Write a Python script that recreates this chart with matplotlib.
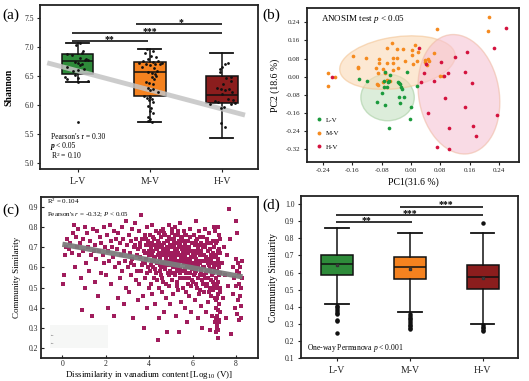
import matplotlib
matplotlib.use("Agg")
import matplotlib.pyplot as plt
from matplotlib.patches import Ellipse, Rectangle
from matplotlib.lines import Line2D

plt.rcParams["font.family"] = ["Liberation Serif", "DejaVu Serif"]
plt.rcParams["mathtext.fontset"] = "custom"
plt.rcParams["mathtext.rm"] = "Liberation Serif"
plt.rcParams["mathtext.it"] = "Liberation Serif:italic"
plt.rcParams["mathtext.bf"] = "Liberation Serif:bold"

# ---------------- data ----------------
groups = ["L-V", "M-V", "H-V"]
group_colors = ["#2e8b3a", "#f5821f", "#8b1d1d"]

# (a) Shannon boxes
shannon_med = [6.75, 6.56, 6.18]
shannon_q1 = [6.53, 6.16, 6.03]
shannon_q3 = [6.87, 6.74, 6.50]
shannon_lo = [6.40, 5.70, 5.44]
shannon_hi = [7.07, 6.97, 6.90]

shannon_lv = [7.06, 7.04, 6.93, 6.90, 6.88, 6.86, 6.81, 6.78, 6.77, 6.74, 6.72, 6.70, 6.69,
              6.66, 6.60, 6.59, 6.52, 6.49, 6.47, 6.44, 6.41, 6.40, 5.71, 6.80, 6.62]
shannon_lv_dx = [0.04, -0.02, 0.08, 0.06, -0.14, -0.07, 0.03, 0.14, 0.10, -0.03, 0.0, 0.06, 0.03,
                 -0.15, 0.0, -0.06, -0.04, -0.18, 0.0, -0.15, 0.14, 0.0, 0.0, 0.12, 0.09]
shannon_mv = [6.97, 6.93, 6.90, 6.85, 6.82, 6.80, 6.76, 6.75, 6.74, 6.73, 6.72, 6.71, 6.70, 6.70,
              6.68, 6.66, 6.64, 6.58, 6.56, 6.55, 6.53, 6.50, 6.48, 6.45, 6.40, 6.38, 6.37, 6.30,
              6.27, 6.25, 6.22, 6.15, 6.14, 6.12, 6.10, 6.08, 6.05, 5.98, 5.95, 5.90, 5.86, 5.80,
              5.76, 5.73, 5.71]
shannon_mv_dx = [-0.04, 0.05, -0.06, 0.02, 0.09, -0.02, 0.12, -0.10, 0.04, 0.17, -0.15, 0.08, -0.05, 0.14,
                 0.01, -0.11, 0.06, 0.10, -0.03, 0.03, 0.07, 0.09, 0.03, 0.06, -0.05, -0.01, 0.05, -0.02,
                 0.04, 0.01, 0.11, -0.08, 0.0, -0.04, 0.03, -0.01, 0.05, -0.02, 0.02, 0.0, 0.04, -0.03,
                 0.01, -0.02, 0.03]
shannon_hv = [6.73, 6.70, 6.66, 6.62, 6.57, 6.48, 6.46, 6.42, 6.37, 6.30, 6.28, 6.27, 6.25,
              6.22, 6.19, 6.10, 6.09, 6.07, 6.06, 6.04, 6.02, 6.01, 5.96, 5.95, 5.69, 5.63]
shannon_hv_dx = [0.08, 0.04, 0.0, -0.03, -0.02, 0.12, 0.06, 0.12, 0.02, -0.07, -0.01, 0.10, 0.04,
                 0.14, 0.0, 0.09, 0.15, -0.10, -0.05, 0.18, 0.12, -0.17, 0.03, -0.01, -0.01, 0.04]

shannon_fit_slope = -0.328
shannon_fit_intercept = 6.916
shannon_fit_range = [0.58, 3.32]

shannon_sig_left = [0.92, 0.92, 1.81]
shannon_sig_right = [1.98, 3.0, 3.0]
shannon_sig_y = [7.105, 7.232, 7.39]
shannon_sig_text = ["**", "***", "*"]
shannon_sig_text_x = [1.44, 2.0, 2.44]

# (b) PCoA
pc_lv_x = [-0.141, -0.120, -0.070, -0.056, -0.074, -0.063, -0.059, -0.036, -0.034, -0.030, -0.027,
           -0.025, -0.074, -0.065, -0.078, -0.032, -0.019, -0.094, -0.070, -0.030, -0.001, -0.003,
           -0.059, -0.010, 0.016]
pc_lv_y = [-0.011, -0.018, 0.019, 0.007, -0.019, -0.025, -0.019, -0.022, -0.030, -0.034, -0.047,
           -0.053, -0.044, -0.047, -0.071, -0.089, -0.089, -0.111, -0.127, -0.115, -0.136, -0.186,
           -0.226, 0.022, -0.041]
pc_mv_x = [0.213, 0.211, 0.070, 0.012, -0.053, -0.065, -0.037, -0.021, 0.003, -0.158, -0.123, -0.087,
           -0.088, -0.050, -0.039, 0.003, 0.019, -0.144, -0.146, -0.096, -0.065, -0.050, -0.017, 0.005,
           0.017, 0.037, 0.047, 0.048, 0.063, 0.039, 0.043, -0.077, -0.070, -0.050, -0.036, -0.089,
           -0.065, -0.056, -0.076, -0.094, -0.089, -0.227, -0.207, -0.228, 0.079, 0.087]
pc_mv_y = [0.262, 0.203, 0.211, 0.141, 0.147, 0.125, 0.121, 0.122, 0.118, 0.091, 0.084, 0.076,
           0.059, 0.084, 0.082, 0.096, 0.107, 0.044, 0.038, 0.037, 0.060, 0.059, 0.068, 0.056,
           0.069, 0.072, 0.078, 0.069, 0.106, 0.063, 0.051, 0.032, 0.015, 0.029, 0.040, 0.015,
           -0.015, -0.018, -0.022, -0.033, -0.037, 0.017, 0.000, -0.041, 0.003, 0.003]
pc_hv_x = [0.260, 0.227, 0.152, 0.120, 0.081, 0.041, 0.023, 0.036, 0.027, 0.064, 0.089, 0.100,
           0.147, 0.166, 0.093, 0.147, 0.047, 0.236, 0.170, 0.103, 0.178, 0.070, 0.103, -0.215]
pc_hv_y = [0.214, 0.125, 0.107, 0.085, 0.066, 0.054, 0.128, 0.015, -0.025, -0.019, 0.003, 0.015,
           0.019, -0.030, -0.096, -0.134, -0.162, -0.170, -0.218, -0.227, -0.262, -0.310, -0.318,
           -0.003]

ellipse_cx = [-0.064, -0.037, 0.131]
ellipse_cy = [-0.092, 0.062, -0.078]
ellipse_w = [0.146, 0.326, 0.221]
ellipse_h = [0.206, 0.222, 0.529]
ellipse_angle = [0, 20, 4]

# (c) community similarity vs vanadium dissimilarity
dissim_points = [
    (0.05, 0.52), (0.08, 0.56), (0.12, 0.66), (0.18, 0.70), (0.22, 0.74), (0.30, 0.69), (0.35, 0.72),
    (0.42, 0.67), (0.47, 0.77),
    (0.55, 0.81), (0.60, 0.60), (0.63, 0.75), (0.68, 0.70), (0.72, 0.79), (0.78, 0.66), (0.82, 0.72),
    (0.85, 0.55), (0.90, 0.39), (0.93, 0.68), (0.97, 0.74),
    (1.02, 0.50), (1.05, 0.80), (1.10, 0.62), (1.15, 0.77), (1.18, 0.70), (1.22, 0.58), (1.28, 0.73),
    (1.32, 0.66), (1.36, 0.36), (1.40, 0.79), (1.45, 0.68), (1.48, 0.53),
    (1.52, 0.71), (1.56, 0.64), (1.60, 0.78), (1.64, 0.46), (1.68, 0.68), (1.72, 0.75), (1.76, 0.57),
    (1.80, 0.72), (1.85, 0.66), (1.90, 0.80), (1.94, 0.62), (1.98, 0.70),
    (2.02, 0.56), (2.05, 0.76), (2.08, 0.40), (2.12, 0.68), (2.15, 0.63), (2.18, 0.81), (2.22, 0.73),
    (2.26, 0.52), (2.30, 0.70), (2.33, 0.65), (2.36, 0.78), (2.40, 0.36), (2.43, 0.60), (2.47, 0.74),
    (2.52, 0.69), (2.55, 0.45), (2.58, 0.77), (2.61, 0.62), (2.64, 0.55), (2.67, 0.72), (2.70, 0.66),
    (2.73, 0.80), (2.76, 0.58), (2.79, 0.74), (2.82, 0.42), (2.85, 0.68), (2.88, 0.63), (2.91, 0.83),
    (2.94, 0.50), (2.97, 0.71),
    (3.02, 0.60), (3.05, 0.76), (3.08, 0.48), (3.11, 0.67), (3.14, 0.73), (3.17, 0.56), (3.20, 0.79),
    (3.23, 0.64), (3.26, 0.35), (3.29, 0.70), (3.32, 0.61), (3.35, 0.82), (3.38, 0.54), (3.41, 0.74),
    (3.44, 0.66), (3.47, 0.44), (3.49, 0.69), (3.15, 0.62), (3.36, 0.71), (3.45, 0.58),
    (3.52, 0.78), (3.54, 0.52), (3.57, 0.65), (3.60, 0.70), (3.62, 0.86), (3.64, 0.58), (3.67, 0.74),
    (3.70, 0.46), (3.72, 0.62), (3.75, 0.68), (3.77, 0.30), (3.80, 0.76), (3.82, 0.55), (3.85, 0.71),
    (3.87, 0.64), (3.90, 0.80), (3.92, 0.40), (3.94, 0.60), (3.96, 0.73), (3.98, 0.50), (3.66, 0.61),
    (3.83, 0.67), (3.58, 0.72),
    (4.01, 0.66), (4.03, 0.58), (4.05, 0.76), (4.07, 0.52), (4.09, 0.70), (4.11, 0.63), (4.13, 0.81),
    (4.15, 0.47), (4.17, 0.68), (4.19, 0.60), (4.21, 0.74), (4.23, 0.55), (4.25, 0.71), (4.27, 0.42),
    (4.29, 0.65), (4.31, 0.78), (4.33, 0.57), (4.35, 0.69), (4.37, 0.62), (4.39, 0.24), (4.41, 0.73),
    (4.43, 0.50), (4.45, 0.67), (4.47, 0.35), (4.49, 0.61), (4.12, 0.72), (4.28, 0.59), (4.44, 0.77),
    (4.20, 0.64),
    (4.51, 0.70), (4.53, 0.56), (4.55, 0.75), (4.57, 0.48), (4.59, 0.66), (4.61, 0.62), (4.63, 0.79),
    (4.65, 0.53), (4.67, 0.72), (4.69, 0.38), (4.71, 0.68), (4.73, 0.59), (4.75, 0.76), (4.77, 0.45),
    (4.79, 0.64), (4.81, 0.70), (4.83, 0.28), (4.85, 0.57), (4.87, 0.73), (4.89, 0.61), (4.91, 0.81),
    (4.93, 0.51), (4.95, 0.67), (4.97, 0.42), (4.99, 0.74), (4.62, 0.69), (4.78, 0.63), (4.94, 0.71),
    (4.56, 0.60), (4.86, 0.66),
    (5.01, 0.65), (5.03, 0.77), (5.05, 0.54), (5.07, 0.71), (5.09, 0.60), (5.11, 0.47), (5.13, 0.74),
    (5.15, 0.63), (5.17, 0.80), (5.19, 0.56), (5.21, 0.68), (5.23, 0.36), (5.25, 0.72), (5.27, 0.58),
    (5.29, 0.66), (5.31, 0.49), (5.33, 0.76), (5.35, 0.61), (5.37, 0.28), (5.39, 0.70), (5.41, 0.55),
    (5.43, 0.82), (5.45, 0.64), (5.47, 0.43), (5.49, 0.69), (5.08, 0.67), (5.22, 0.62), (5.36, 0.73),
    (5.44, 0.59), (5.14, 0.70), (5.30, 0.53),
    (5.51, 0.74), (5.53, 0.58), (5.55, 0.67), (5.57, 0.50), (5.59, 0.78), (5.61, 0.62), (5.63, 0.71),
    (5.65, 0.40), (5.67, 0.65), (5.69, 0.55), (5.71, 0.76), (5.73, 0.60), (5.75, 0.33), (5.77, 0.69),
    (5.79, 0.52), (5.81, 0.73), (5.83, 0.63), (5.85, 0.46), (5.87, 0.79), (5.89, 0.57), (5.91, 0.68),
    (5.93, 0.38), (5.95, 0.61), (5.97, 0.72), (5.99, 0.54), (5.60, 0.66), (5.74, 0.70), (5.88, 0.64),
    (5.96, 0.59), (5.68, 0.48),
    (6.01, 0.66), (6.03, 0.53), (6.05, 0.76), (6.07, 0.60), (6.09, 0.44), (6.11, 0.71), (6.13, 0.57),
    (6.15, 0.83), (6.17, 0.64), (6.19, 0.50), (6.21, 0.74), (6.23, 0.35), (6.25, 0.61), (6.27, 0.69),
    (6.29, 0.47), (6.31, 0.78), (6.33, 0.56), (6.35, 0.66), (6.37, 0.41), (6.39, 0.72), (6.41, 0.59),
    (6.43, 0.30), (6.45, 0.63), (6.47, 0.52), (6.49, 0.75), (6.10, 0.62), (6.26, 0.55), (6.40, 0.68),
    (6.18, 0.58),
    (6.51, 0.60), (6.53, 0.71), (6.55, 0.48), (6.57, 0.79), (6.59, 0.55), (6.61, 0.65), (6.63, 0.38),
    (6.65, 0.74), (6.67, 0.52), (6.69, 0.62), (6.71, 0.43), (6.73, 0.68), (6.75, 0.58), (6.77, 0.77),
    (6.79, 0.50), (6.81, 0.29), (6.83, 0.64), (6.85, 0.46), (6.87, 0.72), (6.89, 0.56), (6.91, 0.36),
    (6.93, 0.67), (6.95, 0.53), (6.97, 0.80), (6.99, 0.60), (6.62, 0.57), (6.78, 0.61), (6.92, 0.49),
    (7.01, 0.70), (7.02, 0.45), (7.03, 0.62), (7.04, 0.33), (7.05, 0.78), (7.06, 0.55), (7.07, 0.40),
    (7.08, 0.66), (7.09, 0.28), (7.10, 0.50), (7.11, 0.73), (7.12, 0.36), (7.13, 0.58), (7.14, 0.30),
    (7.15, 0.80), (7.16, 0.47), (7.17, 0.64), (7.18, 0.25), (7.19, 0.53), (7.20, 0.42), (7.21, 0.69),
    (7.22, 0.34), (7.23, 0.60), (7.24, 0.76), (7.25, 0.48), (7.26, 0.57), (7.27, 0.38), (7.28, 0.67),
    (7.12, 0.31), (7.16, 0.29), (7.08, 0.44), (7.20, 0.62),
    (7.35, 0.62), (7.40, 0.45), (7.45, 0.70), (7.50, 0.56), (7.55, 0.35), (7.60, 0.66), (7.65, 0.51),
    (7.70, 0.89), (7.72, 0.74), (7.78, 0.27),
    (7.85, 0.60), (7.88, 0.47), (7.92, 0.55), (7.95, 0.40), (7.98, 0.64), (8.00, 0.83), (8.02, 0.51),
    (8.04, 0.37), (8.06, 0.58), (8.08, 0.44), (8.10, 0.62), (8.12, 0.52), (8.14, 0.34), (8.16, 0.57),
    (8.18, 0.46), (8.20, 0.60), (8.22, 0.50), (8.24, 0.41), (8.26, 0.55), (8.28, 0.63), (8.05, 0.77),
    (8.25, 0.35),
    # dense core, 3.8 - 7.3
    (3.81, 0.62), (3.86, 0.74), (3.91, 0.57), (3.97, 0.68), (4.04, 0.71), (4.08, 0.61), (4.14, 0.66),
    (4.18, 0.75), (4.24, 0.63), (4.30, 0.70), (4.36, 0.54), (4.42, 0.66), (4.46, 0.72), (4.48, 0.58),
    (4.52, 0.64), (4.54, 0.78), (4.58, 0.71), (4.60, 0.55), (4.64, 0.67), (4.68, 0.61), (4.70, 0.77),
    (4.74, 0.66), (4.76, 0.52), (4.80, 0.73), (4.84, 0.62), (4.88, 0.68), (4.90, 0.56), (4.92, 0.75),
    (4.96, 0.63), (4.98, 0.58),
    (5.02, 0.70), (5.04, 0.61), (5.06, 0.79), (5.10, 0.66), (5.12, 0.57), (5.16, 0.72), (5.18, 0.64),
    (5.20, 0.76), (5.24, 0.60), (5.26, 0.69), (5.28, 0.51), (5.32, 0.67), (5.34, 0.78), (5.38, 0.63),
    (5.40, 0.57), (5.42, 0.71), (5.46, 0.66), (5.48, 0.75),
    (5.52, 0.63), (5.54, 0.70), (5.56, 0.55), (5.58, 0.73), (5.62, 0.68), (5.64, 0.59), (5.66, 0.76),
    (5.70, 0.64), (5.72, 0.57), (5.76, 0.73), (5.78, 0.62), (5.80, 0.67), (5.82, 0.55), (5.84, 0.70),
    (5.86, 0.60), (5.90, 0.75), (5.92, 0.65), (5.94, 0.51), (5.98, 0.68),
    (6.02, 0.72), (6.04, 0.62), (6.06, 0.56), (6.08, 0.68), (6.12, 0.65), (6.14, 0.52), (6.16, 0.73),
    (6.20, 0.60), (6.22, 0.67), (6.24, 0.55), (6.28, 0.63), (6.30, 0.71), (6.32, 0.49), (6.34, 0.62),
    (6.36, 0.75), (6.38, 0.57), (6.42, 0.66), (6.44, 0.54), (6.46, 0.70), (6.48, 0.60),
    (6.52, 0.66), (6.54, 0.56), (6.58, 0.70), (6.60, 0.51), (6.64, 0.63), (6.66, 0.58), (6.68, 0.72),
    (6.72, 0.55), (6.74, 0.64), (6.76, 0.48), (6.80, 0.69), (6.82, 0.59), (6.84, 0.54), (6.86, 0.66),
    (6.88, 0.50), (6.90, 0.62), (6.94, 0.57), (6.96, 0.73), (6.98, 0.52), (7.02, 0.65), (7.04, 0.58),
    (7.06, 0.72), (7.10, 0.61), (7.14, 0.52), (7.18, 0.68), (7.22, 0.56), (7.26, 0.74), (7.28, 0.50),
    (7.13, 0.45), (7.19, 0.39), (7.24, 0.33), (7.06, 0.35),
]
dissim_fit_slope = -0.0195
dissim_fit_intercept = 0.715
dissim_fit_range = [0.0, 8.3]

# (d) community similarity boxes
sim_med = [0.650, 0.632, 0.572]
sim_q1 = [0.583, 0.560, 0.505]
sim_q3 = [0.703, 0.690, 0.643]
sim_lo = [0.413, 0.366, 0.300]
sim_hi = [0.859, 0.833, 0.833]
sim_mean = [0.642, 0.622, 0.568]
sim_fliers = [
    [0.405, 0.395, 0.385, 0.375, 0.365, 0.355, 0.322, 0.316, 0.245],
    [0.355, 0.345, 0.335, 0.325, 0.315, 0.305, 0.295, 0.285, 0.275, 0.268],
    [0.892, 0.292, 0.282, 0.272, 0.262, 0.255],
]
sim_sig_left = [0.98, 0.98, 1.87]
sim_sig_right = [2.03, 3.01, 3.01]
sim_sig_y = [0.894, 0.937, 0.986]
sim_sig_text = ["**", "***", "***"]
sim_sig_text_x = [1.41, 2.0, 2.5]

# ---------------- figure ----------------
W, H = 529, 381
fig = plt.figure(figsize=(W / 100, H / 100), dpi=100)


def px_axes(l, t, r, b):
    return fig.add_axes([l / W, 1 - b / H, (r - l) / W, (b - t) / H])


def style_frame(ax, direction="out"):
    for s in ax.spines.values():
        s.set_linewidth(1.3)
        s.set_color("#222222")
    ax.tick_params(direction=direction, length=2.5, width=0.8, labelsize=5.5, pad=2,
                   colors="#222222")


def draw_boxes(ax, med, q1, q3, lo, hi, fliers=None, means=None):
    stats = []
    for i in range(len(med)):
        st = dict(med=med[i], q1=q1[i], q3=q3[i], whislo=lo[i], whishi=hi[i],
                  fliers=fliers[i] if fliers else [])
        if means:
            st["mean"] = means[i]
        stats.append(st)
    bp = ax.bxp(stats, positions=[1, 2, 3], widths=0.44, capwidths=0.32, patch_artist=True,
                showfliers=bool(fliers), showmeans=bool(means),
                boxprops=dict(linewidth=1.1, edgecolor="#111111"),
                medianprops=dict(color="#111111", linewidth=1.1),
                whiskerprops=dict(color="#111111", linewidth=1.1),
                capprops=dict(color="#111111", linewidth=1.3),
                flierprops=dict(marker="o", markersize=2.2, markerfacecolor="#111111",
                                markeredgecolor="#111111"),
                meanprops=dict(marker="s", markersize=2, markerfacecolor="#555555",
                               markeredgecolor="#333333"))
    for patch, c in zip(bp["boxes"], group_colors):
        patch.set_facecolor(c)
    return bp


def draw_sig(ax, left, right, ys, texts, text_x, dy):
    for x1, x2, y, t, tx in zip(left, right, ys, texts, text_x):
        ax.plot([x1, x2], [y, y], color="#111111", lw=1.2, solid_capstyle="butt")
        ax.text(tx, y + dy, t, ha="center", va="center", fontsize=7, fontweight="bold")


# (a)
ax = px_axes(40, 5, 258, 169)
draw_boxes(ax, shannon_med, shannon_q1, shannon_q3, shannon_lo, shannon_hi)
xs = shannon_fit_range
ax.plot(xs, [shannon_fit_intercept + shannon_fit_slope * x for x in xs],
        color="#c4c4c4", lw=3.5, alpha=0.85, solid_capstyle="butt", zorder=3)
for i, (vals, dx) in enumerate([(shannon_lv, shannon_lv_dx), (shannon_mv, shannon_mv_dx),
                                (shannon_hv, shannon_hv_dx)]):
    ax.scatter([i + 1 + d for d in dx], vals, s=4, color="#111111", zorder=4, linewidths=0)
draw_sig(ax, shannon_sig_left, shannon_sig_right, shannon_sig_y, shannon_sig_text,
         shannon_sig_text_x, 0.03)
ax.set_xlim(0.48, 3.5)
ax.set_ylim(4.90, 7.72)
ax.set_yticks([5.0, 5.5, 6.0, 6.5, 7.0, 7.5])
ax.set_yticklabels(["5.0", "5.5", "6.0", "6.5", "7.0", "7.5"])
ax.set_xticks([1, 2, 3])
ax.set_xticklabels(groups, fontsize=7)
ax.set_ylabel("Shannon", fontsize=7, fontweight="bold", labelpad=8)
style_frame(ax)
ax.tick_params(axis="x", labelsize=7, pad=3)
ax.text(0.049, 0.197, "Pearson's r = 0.30", transform=ax.transAxes, fontsize=5.5, va="center")
ax.text(0.049, 0.140, "p", transform=ax.transAxes, fontsize=5.5, va="center",
        fontstyle="italic", fontweight="bold")
ax.text(0.072, 0.140, "< 0.05", transform=ax.transAxes, fontsize=5.5, va="center")
ax.text(0.049, 0.085, "R$^2$ = 0.10", transform=ax.transAxes, fontsize=5.5, va="center")

# (b)
ax = px_axes(306.7, 8.3, 519.3, 161.7)
ell_fill = ["#c6e2c2", "#fbdab6", "#f6c3d4"]
ell_edge = ["#a9cfa4", "#f3c596", "#f0bca6"]
for cx, cy, w, h, a, fc, ec in zip(ellipse_cx, ellipse_cy, ellipse_w, ellipse_h, ellipse_angle,
                                   ell_fill, ell_edge):
    ax.add_patch(Ellipse((cx, cy), w, h, angle=a, facecolor=fc, edgecolor=ec, lw=1.0,
                         alpha=0.6, zorder=1))
pt_colors = ["#1a9a3c", "#f58a1f", "#d4123e"]
ax.scatter(pc_mv_x, pc_mv_y, s=7, color=pt_colors[1], linewidths=0, zorder=3)
ax.scatter(pc_hv_x, pc_hv_y, s=7, color=pt_colors[2], linewidths=0, zorder=3)
ax.scatter(pc_lv_x, pc_lv_y, s=7, color=pt_colors[0], linewidths=0, zorder=3)
ax.set_xlim(-0.285, 0.296)
ax.set_ylim(-0.376, 0.302)
xt = [-0.24, -0.16, -0.08, 0.0, 0.08, 0.16, 0.24]
yt = [-0.32, -0.24, -0.16, -0.08, 0.0, 0.08, 0.16, 0.24]
ax.set_xticks(xt)
ax.set_xticklabels(["%.2f" % v for v in xt])
ax.set_yticks(yt)
ax.set_yticklabels(["%.2f" % v for v in yt])
style_frame(ax)
ax.tick_params(labelsize=5)
ax.set_xlabel("PC1(31.6 %)", fontsize=7, labelpad=3)
ax.set_ylabel("PC2 (18.6 %)", fontsize=7, labelpad=4)
ax.text(0.067, 0.928, "ANOSIM test $p$ < 0.05", transform=ax.transAxes, fontsize=6.5,
        va="center")
handles = [Line2D([], [], ls="", marker="o", markersize=2.8, color=c, markeredgewidth=0)
           for c in pt_colors]
ax.legend(handles, groups, loc="lower left", bbox_to_anchor=(0.03, 0.05), frameon=False,
          fontsize=5, handlelength=0.6, handletextpad=0.6, labelspacing=1.1, borderaxespad=0.2)

# (c)
ax = px_axes(40.7, 196.7, 258.3, 357.7)
ax.scatter([p[0] for p in dissim_points], [p[1] for p in dissim_points], s=5, marker="s",
           color="#a01c5c", linewidths=0, zorder=2)
xs = dissim_fit_range
ax.plot(xs, [dissim_fit_intercept + dissim_fit_slope * x for x in xs], color="#7c7c7c",
        lw=3.8, alpha=0.95, solid_capstyle="butt", zorder=3)
ax.add_patch(Rectangle((-0.55, 0.20), 2.65, 0.115, facecolor="#f6f7f6", edgecolor="none",
                       zorder=1))
ax.text(-0.62, 0.265, "←", fontsize=3, color="#777777", va="center")
ax.text(-0.62, 0.223, "←", fontsize=3, color="#777777", va="center")
ax.set_xlim(-1.0, 9.03)
ax.set_ylim(0.152, 0.951)
ax.set_xticks([0, 2, 4, 6, 8])
ax.set_yticks([0.2, 0.3, 0.4, 0.5, 0.6, 0.7, 0.8, 0.9])
style_frame(ax, direction="in")
ax.set_ylabel("Community Similarity", fontsize=6.5, labelpad=5)
ax.set_xlabel("Dissimilarity in vanadium content [Log$_{10}$ (V)]", fontsize=6.5, labelpad=0.5)
ax.text(0.028, 0.969, "R$^2$ = 0.104", transform=ax.transAxes, fontsize=5, va="center")
ax.text(0.028, 0.886, "Pearson's $r$ = -0.32; $P$ < 0.05", transform=ax.transAxes,
        fontsize=5, va="center")

# (d)
ax = px_axes(300.7, 196, 518.3, 358.3)
draw_boxes(ax, sim_med, sim_q1, sim_q3, sim_lo, sim_hi, fliers=sim_fliers, means=sim_mean)
draw_sig(ax, sim_sig_left, sim_sig_right, sim_sig_y, sim_sig_text, sim_sig_text_x, 0.012)
ax.set_xlim(0.5, 3.49)
ax.set_ylim(0.097, 1.049)
ax.set_yticks([0.1, 0.2, 0.3, 0.4, 0.5, 0.6, 0.7, 0.8, 0.9, 1.0])
ax.set_xticks([1, 2, 3])
ax.set_xticklabels(groups)
style_frame(ax)
ax.tick_params(axis="x", labelsize=7, pad=3)
ax.set_ylabel("Community Similarity", fontsize=7, labelpad=5)
ax.text(0.028, 0.065, "One-way Permanova $p$ < 0.001", transform=ax.transAxes, fontsize=5.5,
        va="center")

# panel letters
for lbl, x, y in [("(a)", 2, 15), ("(b)", 262, 15), ("(c)", 2, 210), ("(d)", 262, 205)]:
    fig.text(x / W, 1 - y / H, lbl, fontsize=11, va="center", ha="left")

fig.savefig("out.png", dpi=100)
